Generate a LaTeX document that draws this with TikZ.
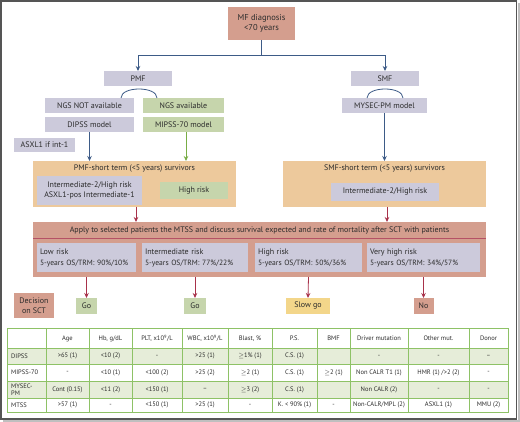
\documentclass[tikz,border=0pt]{standalone}
\usepackage{fontspec}
\setmainfont{PT Sans}
\usetikzlibrary{arrows.meta,calc}
\definecolor{salmon}{HTML}{D49E8E}
\definecolor{lav}{HTML}{CCCADB}
\definecolor{lgreen}{HTML}{C6D5AC}
\definecolor{tan}{HTML}{EDC99C}
\definecolor{ylw}{HTML}{F3D68A}
\definecolor{barrow}{HTML}{3D5B87}
\definecolor{garrow}{HTML}{78AD45}
\definecolor{rarrow}{HTML}{A8324A}
\definecolor{tline}{HTML}{8EC266}
\definecolor{tfill}{HTML}{E6EDD9}
\definecolor{framec}{HTML}{555555}
\definecolor{txt}{HTML}{2B2B2B}
\newcommand{\colcenters}{{26.5,67.5,110.5,157,205,250,294.5,333.5,379,438.5,488.5}}
\newcommand{\tabcell}[4]{\pgfmathsetmacro\tcx{\colcenters[#2]}\node[tc] (#1) at (\tcx,#3) {#4};}
\begin{document}
\begin{tikzpicture}[x=1pt,y=-1pt,
  box/.style={inner sep=0pt, outer sep=0pt, align=center, text=txt, font=\fontsize{8}{9}\selectfont},
  riskbox/.style={box, fill=lav, align=left, text width=#1, inner xsep=3pt, font=\fontsize{7.6}{11}\selectfont},
  tc/.style={inner sep=0pt, font=\fontsize{6.5}{7}\selectfont, text=txt},
  ba/.style={draw=barrow, line width=0.8pt, -{Stealth[length=5pt,width=4.5pt]}},
  ga/.style={draw=garrow, line width=0.8pt, -{Stealth[length=5pt,width=4.5pt]}},
  ra/.style={draw=rarrow, line width=0.8pt, -{Stealth[length=5pt,width=4.5pt]}},
  arcl/.style={draw=barrow, line width=0.8pt}]
\useasboundingbox (0,0) rectangle (520,422);
\fill[white] (0,0) rectangle (520,422);
% frame
\draw[black!25, line width=2pt] (3,421) -- (519,421) -- (519,3);
\draw[framec, line width=1.6pt] (1,1) rectangle (516.5,419);

% top nodes
\node[box, fill=salmon, minimum width=67, minimum height=33, font=\fontsize{8.5}{10.5}\selectfont] (mf) at (261.5,23.5) {MF diagnosis\\<70 years};
\node[box, fill=lav, minimum width=68, minimum height=15] (pmf) at (138,78.5) {PMF};
\node[box, fill=lav, minimum width=68, minimum height=15] (smf) at (385,78.5) {SMF};
\node[box, fill=lav, minimum width=89, minimum height=15] (ngsnot) at (89.5,105.5) {NGS NOT available};
\node[box, fill=lgreen, minimum width=81, minimum height=15] (ngsav) at (183.5,105.5) {NGS available};
\node[box, fill=lav, minimum width=89, minimum height=15] (dipss) at (89.5,124.5) {DIPSS model};
\node[box, fill=lgreen, minimum width=81, minimum height=15] (mipss) at (183.5,124.5) {MIPSS-70 model};
\node[box, fill=lav, minimum width=85, minimum height=15] (mysec) at (384.5,105.5) {MYSEC-PM model};
\node[box, fill=lav, minimum width=61, minimum height=14] (asxl) at (44.5,145) {ASXL1 if int-1};

% short-term boxes
\node[box, fill=tan, minimum width=203, minimum height=46] (pmfs) at (134.5,184) {};
\node[box, anchor=center] (pmfst) at (134.5,169) {PMF-short term (<5 years) survivors};
\node[box, fill=lav, minimum width=105, minimum height=29, font=\fontsize{8}{10}\selectfont] (pmfi) at (89.5,190.5) {Intermediate-2/High risk\\ASXL1-pos Intermediate-1};
\node[box, fill=lgreen, minimum width=68, minimum height=17] (pmfh) at (194,190.5) {High risk};
\node[box, fill=tan, minimum width=203, minimum height=46] (smfs) at (384.5,184) {};
\node[box] (smfst) at (384.5,169) {SMF-short term (<5 years) survivors};
\node[box, fill=lav, minimum width=108, minimum height=18] (smfi) at (385,192) {Intermediate-2/High risk};

% MTSS box
\node[box, fill=salmon, minimum width=453, minimum height=55] (mtss) at (259.5,249.5) {};
\node[box] (mtsst) at (259.5,230) {Apply to selected patients the MTSS and discuss survival expected and rate of mortality after SCT with patients};
\draw[rarrow!85, line width=0.9pt] (mtss.west |- 0,238) -- (mtss.east |- 0,238);
\node[riskbox=93pt, minimum height=29] (low) at (86.5,257.5) {{\fontsize{8}{9}\selectfont Low risk}\\5-years OS/TRM: 90\%/10\%};
\node[riskbox=100pt, minimum height=29] (int) at (195,257.5) {{\fontsize{8}{9}\selectfont Intermediate risk}\\5-years OS/TRM: 77\%/22\%};
\node[riskbox=101pt, minimum height=29] (high) at (308.5,257.5) {{\fontsize{8}{9}\selectfont High risk}\\5-years OS/TRM: 50\%/36\%};
\node[riskbox=107pt, minimum height=29] (vhigh) at (423.5,257.5) {{\fontsize{8}{9}\selectfont Very high risk}\\5-years OS/TRM: 34\%/57\%};

% decisions
\node[box, fill=salmon, minimum width=40, minimum height=25, font=\fontsize{8}{9.5}\selectfont] (dec) at (34,305.5) {Decision\\on SCT};
\node[box, fill=lgreen, minimum width=21, minimum height=16] (go1) at (86.5,306) {Go};
\node[box, fill=lgreen, minimum width=22, minimum height=16] (go2) at (195,306) {Go};
\node[box, fill=ylw, minimum width=44, minimum height=16] (slow) at (308,306) {Slow go};
\node[box, fill=salmon, minimum width=20, minimum height=16] (no) at (423.5,306) {No};

% connectors
\coordinate (split) at (261.5,55);
\draw[barrow, line width=0.8pt] (mf.south) -- (split);
\draw[ba] (split) -| (pmf.north);
\draw[ba] (split) -| (smf.north);
\draw[arcl] ($(ngsnot.north east)+(-13,0)$) .. controls +(0,-12) and +(0,-12) .. ($(ngsav.north west)+(14,0)$);
\draw[arcl] ($(mysec.north west)+(25,0)$) .. controls +(0,-12) and +(0,-12) .. ($(mysec.north east)+(-24,0)$);
\draw[ba] (dipss.south) -- (dipss.south |- pmfs.north);
\draw[ga] ($(mipss.south)+(2.5,0)$) -- ($(mipss.south |- pmfs.north)+(2.5,0)$);
\draw[ba] (mysec.south) -- (mysec.south |- smfs.north);
\draw[ra] ($(pmfs.south)+(1.5,0)$) -- ($(pmfs.south |- mtss.north)+(1.5,0)$);
\draw[ra] ($(smfs.south)+(2.5,0)$) -- ($(smfs.south |- mtss.north)+(2.5,0)$);
\draw[ra] (low.south |- mtss.south) -- (go1.north);
\draw[ra] (int.south |- mtss.south) -- (go2.north);
\draw[ra] (high.south |- mtss.south) -- (slow.north);
\draw[ra] (vhigh.south |- mtss.south) -- (no.north);

% table
\fill[tfill] (7,348) rectangle (508,364);
\fill[tfill] (7,381) rectangle (508,398);
\foreach \xx in {46,89,132,182,228,272,317,350,408,469}
  \draw[tline, line width=0.6pt] (\xx,329) -- (\xx,412);
\foreach \yy in {348,364,381,398}
  \draw[tline, line width=0.6pt] (7,\yy) -- (508,\yy);
\draw[tline, line width=1pt] (7,329) rectangle (508,412);

\tabcell{h1}{1}{338.5}{Age}
\tabcell{h2}{2}{338.5}{Hb, g/dL}
\tabcell{h3}{3}{338.5}{PLT, x10\textsuperscript{9}/L}
\tabcell{h4}{4}{338.5}{WBC, x10\textsuperscript{9}/L}
\tabcell{h5}{5}{338.5}{Blast, \%}
\tabcell{h6}{6}{338.5}{P.S.}
\tabcell{h7}{7}{338.5}{BMF}
\tabcell{h8}{8}{338.5}{Driver mutation}
\tabcell{h9}{9}{338.5}{Other mut.}
\tabcell{h10}{10}{338.5}{Donor}

\node[tc, anchor=west] (r1) at (11,356) {DIPSS};
\tabcell{a1}{1}{356}{>65 (1)}
\tabcell{a2}{2}{356}{<10 (2)}
\tabcell{a3}{3}{356}{-}
\tabcell{a4}{4}{356}{>25 (1)}
\tabcell{a5}{5}{356}{$\geq$1\% (1)}
\tabcell{a6}{6}{356}{C.S. (1)}
\tabcell{a8}{8}{356}{-}
\tabcell{a9}{9}{356}{-}
\tabcell{a10}{10}{356}{--}

\node[tc, anchor=west] (r2) at (11,372.5) {MIPSS-70};
\tabcell{b1}{1}{372.5}{-}
\tabcell{b2}{2}{372.5}{<10 (1)}
\tabcell{b3}{3}{372.5}{<100 (2)}
\tabcell{b4}{4}{372.5}{>25 (2)}
\tabcell{b5}{5}{372.5}{$\geq$2 (1)}
\tabcell{b6}{6}{372.5}{C.S. (1)}
\tabcell{b7}{7}{372.5}{$\geq$2 (1)}
\tabcell{b8}{8}{372.5}{Non CALR T1 (1)}
\tabcell{b9}{9}{372.5}{HMR (1) />2 (2)}
\tabcell{b10}{10}{372.5}{-}

\node[tc, anchor=west, align=left, font=\fontsize{6.5}{7.5}\selectfont] (r3) at (11,389.5) {MYSEC-\\PM};
\tabcell{c1}{1}{389.5}{Cont (0.15)}
\tabcell{c2}{2}{389.5}{<11 (2)}
\tabcell{c3}{3}{389.5}{<150 (1)}
\tabcell{c4}{4}{389.5}{--}
\tabcell{c5}{5}{389.5}{$\geq$3 (2)}
\tabcell{c6}{6}{389.5}{C.S. (1)}
\tabcell{c8}{8}{389.5}{Non CALR (2)}
\tabcell{c9}{9}{389.5}{-}
\tabcell{c10}{10}{389.5}{-}

\node[tc, anchor=west] (r4) at (11,405) {MTSS};
\tabcell{d1}{1}{405}{>57 (1)}
\tabcell{d2}{2}{405}{-}
\tabcell{d3}{3}{405}{<150 (1)}
\tabcell{d4}{4}{405}{>25 (1)}
\tabcell{d5}{5}{405}{-}
\tabcell{d6}{6}{405}{K. < 90\% (1)}
\tabcell{d7}{7}{405}{-}
\tabcell{d8}{8}{405}{Non-CALR/MPL (2)}
\tabcell{d9}{9}{405}{ASXL1 (1)}
\tabcell{d10}{10}{405}{MMU (2)}
\end{tikzpicture}
\end{document}
